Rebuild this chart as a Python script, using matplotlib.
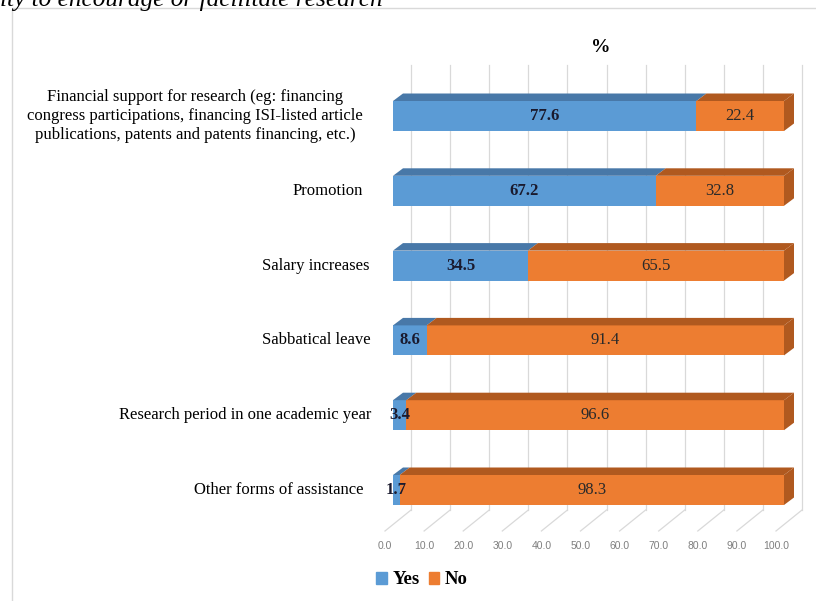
import matplotlib
matplotlib.use('Agg')
import matplotlib.pyplot as plt
from matplotlib.patches import Polygon, Patch, Rectangle

categories = [
    'Financial support for research (eg: financing\n'
    'congress participations, financing ISI-listed article\n'
    'publications, patents and patents financing, etc.)',
    'Promotion',
    'Salary increases',
    'Sabbatical leave',
    'Research period in one academic year',
    'Other forms of assistance',
]
yes_pct = [77.6, 67.2, 34.5, 8.6, 3.4, 1.7]
no_pct = [22.4, 32.8, 65.5, 91.4, 96.6, 98.3]
x_ticks = [0, 10, 20, 30, 40, 50, 60, 70, 80, 90, 100]

BLUE = '#5b9bd5'
BLUE_TOP = '#4878a8'
ORANGE = '#ed7d31'
ORANGE_TOP = '#b0591f'
GRID = '#d9d9d9'
SERIF = 'Liberation Serif'

W, H = 816, 601
# layout in pixels: 0 % sits at x=393, 3.91 px per %, rows 74.8 px apart
X0, XS = 393, 3.91
Y0, YS = 116, 74.8


def px_x(px):
    return (px - X0) / XS


def px_y(px):
    return (px - Y0) / YS


def plot_chart():
    fig = plt.figure(figsize=(W / 100, H / 100), dpi=100)
    ax = fig.add_axes([0, 0, 1, 1])
    ax.set_xlim(px_x(0), px_x(W))
    ax.set_ylim(px_y(H), px_y(0))
    ax.axis('off')

    # light frame around the chart area
    fig.patches.append(Rectangle((12 / W, -0.1), 1.2, 1 - 8 / H + 0.1,
                                 transform=fig.transFigure, fill=False,
                                 ec='#d9d9d9', lw=1))
    # tail of the caption line above the chart
    fig.text(0, 1 - 6 / H, 'ity to encourage or facilitate research',
             family=SERIF, style='italic', fontsize=18.2, va='baseline')

    bar_h = 30 / YS
    depth_x, depth_y = 10 / XS, 7.5 / YS
    back_x = 18 / XS
    floor_front_x = -8 / XS
    grid_top, floor_back, floor_front = px_y(65), px_y(510), px_y(531)

    # back wall gridlines and floor lines
    for t in x_ticks:
        ax.plot([t + back_x, t + back_x], [grid_top, floor_back],
                color=GRID, lw=0.9, zorder=1)
        ax.plot([t + back_x, t + floor_front_x], [floor_back, floor_front],
                color=GRID, lw=0.9, zorder=1)
        ax.text(t + floor_front_x, px_y(546), f'{t:.1f}', ha='center',
                va='center', fontsize=7.5, color='#7f7f7f',
                family='Liberation Sans')

    rows = list(range(len(categories)))
    ax.barh(rows, yes_pct, height=bar_h, color=BLUE, zorder=3)
    ax.barh(rows, no_pct, left=yes_pct, height=bar_h, color=ORANGE, zorder=3)

    for i, (y, n) in enumerate(zip(yes_pct, no_pct)):
        top = i - bar_h / 2
        end = y + n
        # top faces
        ax.add_patch(Polygon([(0, top), (depth_x, top - depth_y),
                              (y + depth_x, top - depth_y), (y, top)],
                             closed=True, color=BLUE_TOP, lw=0, zorder=3))
        ax.add_patch(Polygon([(y, top), (y + depth_x, top - depth_y),
                              (end + depth_x, top - depth_y), (end, top)],
                             closed=True, color=ORANGE_TOP, lw=0, zorder=3))
        # right side face
        ax.add_patch(Polygon([(end, top), (end + depth_x, top - depth_y),
                              (end + depth_x, top + bar_h - depth_y),
                              (end, top + bar_h)],
                             closed=True, color=ORANGE_TOP, lw=0, zorder=3))

        ax.text(y / 2, i, f'{y:.1f}', ha='center', va='center', family=SERIF,
                fontsize=12, weight='bold', color='#1a1a2e', zorder=5)
        ax.text(y + n / 2, i, f'{n:.1f}', ha='center', va='center',
                family=SERIF, fontsize=12, color='#2a2a2a', zorder=5)

    # category labels
    label_right = [363, 363, 370, 371, 371, 363]
    for i, (lab, xr) in enumerate(zip(categories, label_right)):
        ax.text(px_x(xr), i, lab, ha='right', va='center', family=SERIF,
                fontsize=12, multialignment='center', linespacing=1.22)

    ax.text(px_x(601), px_y(47), '%', ha='center', va='center', family=SERIF,
            fontsize=14, weight='bold')

    handles = [Patch(color=BLUE, label='Yes'), Patch(color=ORANGE, label='No')]
    fig.legend(handles=handles, loc='center', bbox_to_anchor=(422 / W, 1 - 580 / H),
               ncol=2, frameon=False, handlelength=0.55, handleheight=0.55,
               handletextpad=0.3, columnspacing=0.5,
               prop=dict(family=SERIF, weight='bold', size=13.5))

    fig.savefig('out.png', dpi=100)


if __name__ == "__main__":
    plot_chart()
